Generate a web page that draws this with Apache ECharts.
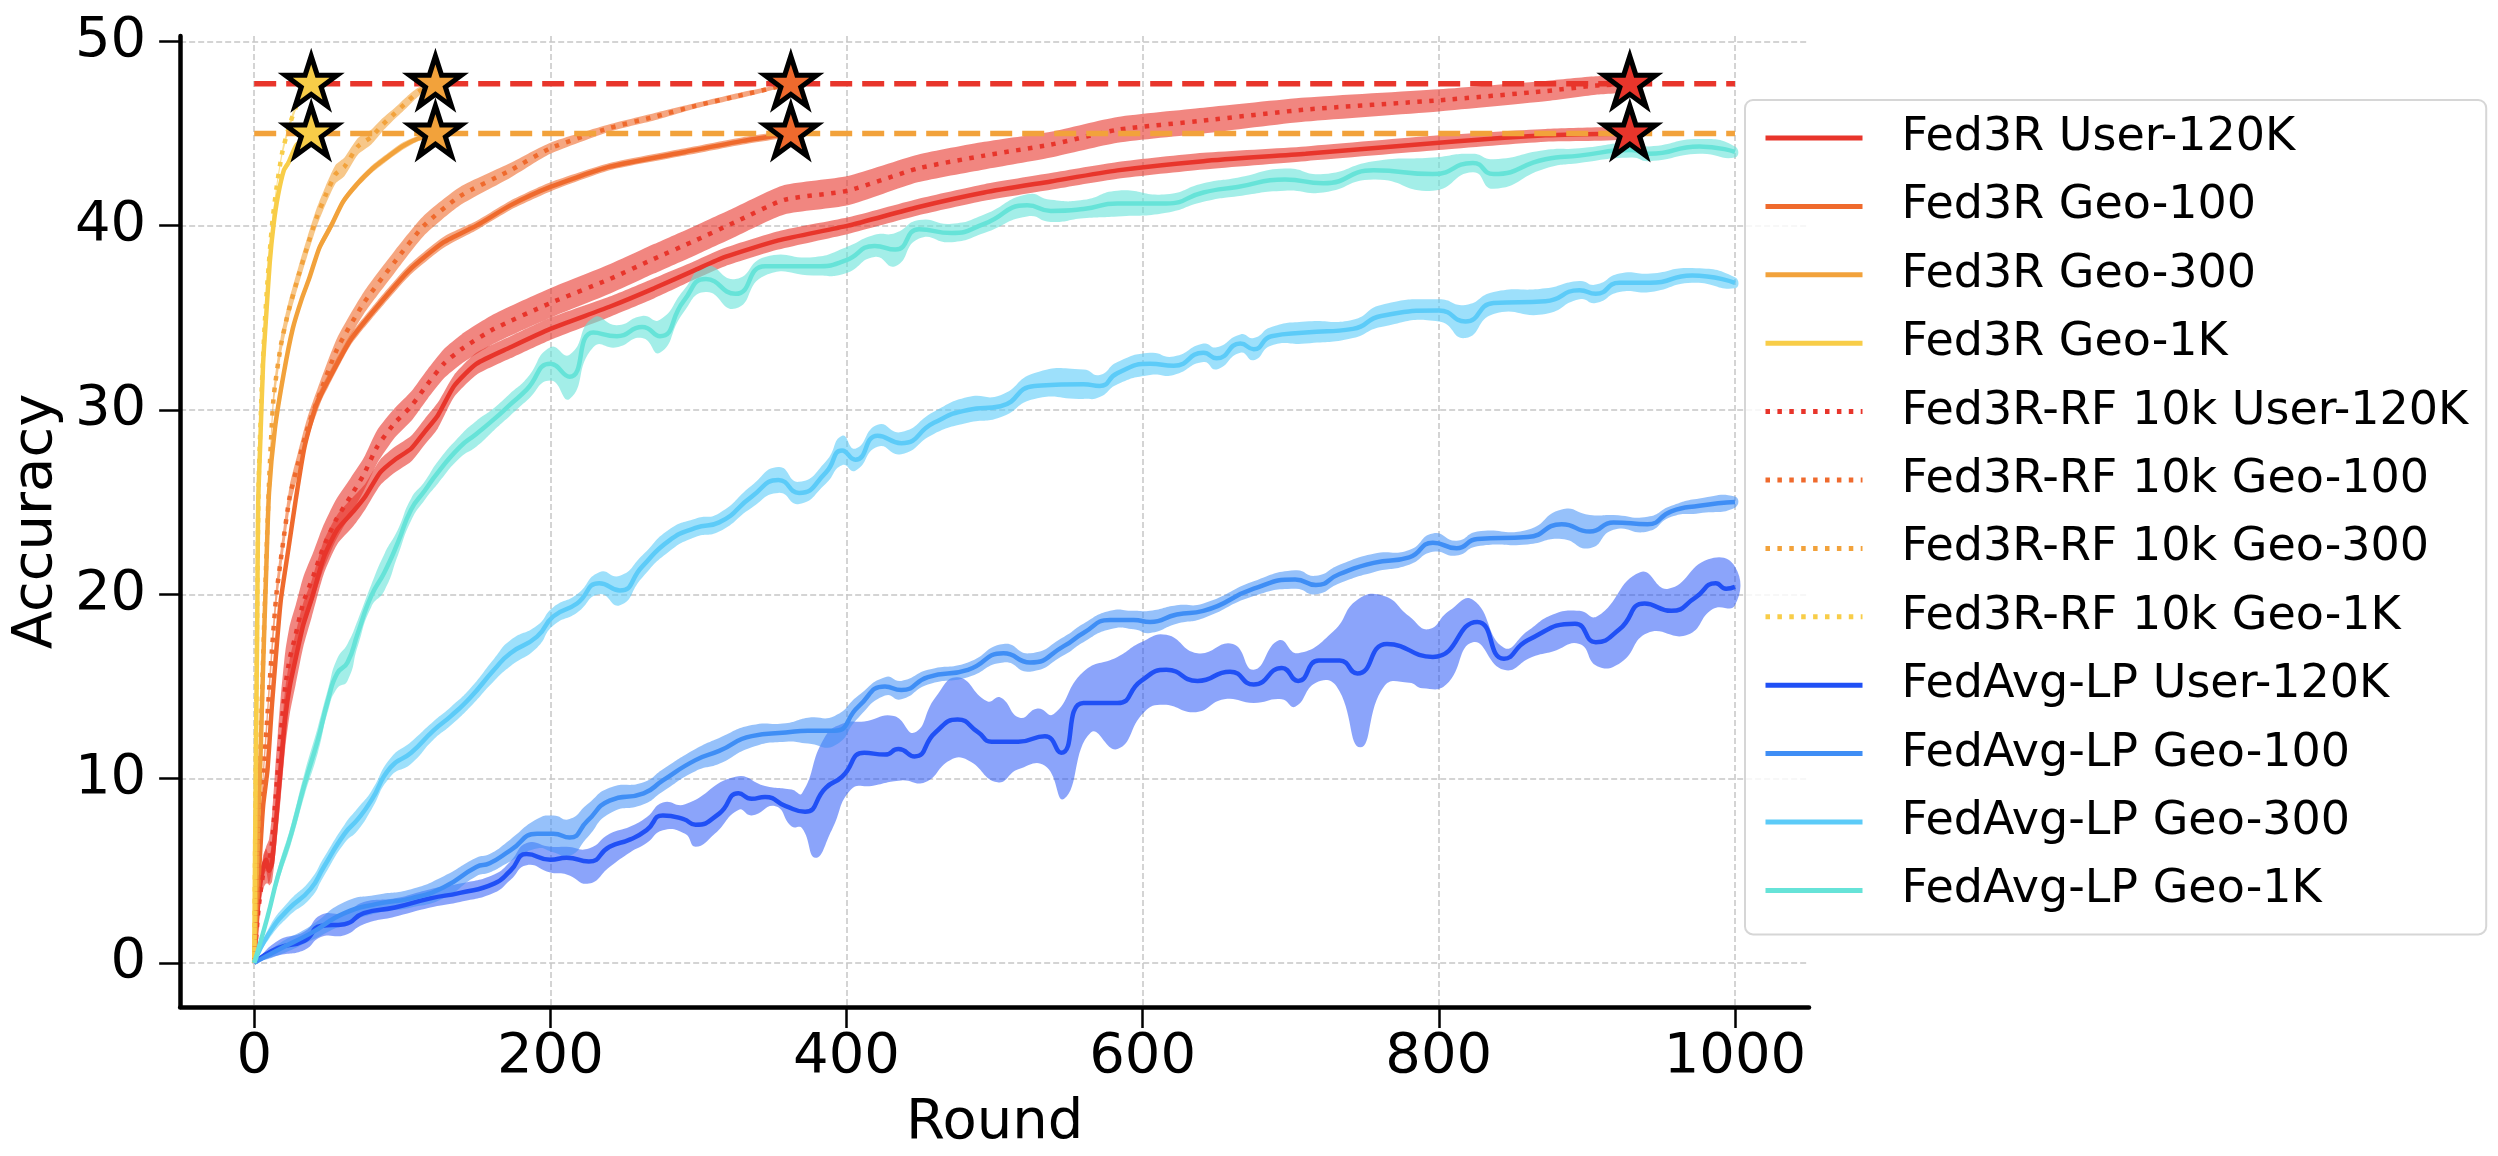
<!DOCTYPE html>
<html lang="en">
<head>
  <meta charset="UTF-8">
  <title>Accuracy vs Round</title>
  <script src="https://cdn.jsdelivr.net/npm/echarts@6/dist/echarts.min.js"></script>
  <style>
    html, body { margin: 0; padding: 0; background: #fff; }
    #main { width: 2498px; height: 1156px; }
  </style>
</head>
<body>
<div id="main"></div>
<script>
// ---- data (round, accuracy %) ----

// Fed3R User-120K
var r3User = [0,3,6,8,10,12,14,16,18,21,24,28,33,39,47,56,67,75,85,95,106,115,124,135,150,173,200,240,270,298,318,354,401,448,493,538,583,641,710,800,872,929];
var m3User = [0,3.5,5.2,5.6,5.0,5.4,7.0,8.8,10.6,13.3,15.0,16.5,18.3,19.8,22.0,23.5,24.5,25.3,26.6,27.3,27.9,28.8,29.7,31.3,32.5,33.4,34.4,35.6,36.6,37.6,38.3,39.2,40.0,41.0,41.8,42.4,43.0,43.5,43.9,44.5,44.9,45.0];
var s3User = [0,0.4,0.6,0.6,0.8,1.0,1.3,1.5,1.6,1.6,1.5,1.4,1.2,1.0,0.9,0.8,0.8,0.7,0.7,0.7,0.7,0.7,0.7,0.6,0.6,0.6,0.6,0.55,0.55,0.5,0.5,0.5,0.45,0.45,0.45,0.45,0.45,0.45,0.4,0.4,0.35,0.3];

// Fed3R Geo-100
var r3G100 = [0,2,4,6,9,12,15,18,23,28,34,42,50,65,83,105,128,150,173,200,240,291,330,362.4];
var m3G100 = [0,3,6,8.5,10.5,14,17,19.7,22.4,25.1,28,30.3,31.6,33.8,35.6,37.6,39.1,40.0,41.1,42.1,43.2,44.0,44.6,45.0];
var s3G100 = [0,0.2,0.3,0.3,0.3,0.4,0.4,0.4,0.4,0.4,0.4,0.35,0.35,0.3,0.3,0.3,0.3,0.25,0.25,0.25,0.2,0.2,0.2,0.15];

// Fed3R Geo-300
var r3G300 = [0,2,4,6,8,10,14,20,26,32,37,44,52,60,70,80,88,100,110,122.4];
var m3G300 = [0,5.5,10.5,16,21,25.5,29,32,34.4,36,37.1,38.8,40,41.3,42.3,43.1,43.6,44.3,44.7,45.0];
var s3G300 = [0,0.2,0.2,0.25,0.25,0.25,0.25,0.25,0.25,0.25,0.25,0.25,0.25,0.2,0.2,0.2,0.2,0.2,0.15,0.1];

// Fed3R Geo-1K
var r3G1K = [0,1,2,2.7,4,6,8,10.5,13,16,20,23,28,33,38.5];
var m3G1K = [0,10,18,25,28,32.5,35,38,40,41.6,43,43.4,44.3,44.7,45.0];
var s3G1K = [0,0.2,0.2,0.2,0.2,0.2,0.2,0.2,0.2,0.2,0.2,0.2,0.15,0.1,0.1];

// Fed3R-RF 10k User-120K
var rRFUser = [0,3,6,8,10,12,14,16,18,21,24,28,33,40,46,55,65,74,83,95,106,117,128,140,162,200,240,270,298,325,358,401,448,493,538,583,641,710,800,872,906,929];
var mRFUser = [0,3.0,4.8,5.3,5.5,6.5,8.5,10.5,12.5,15.0,16.5,17.8,19.5,21.0,22.4,24.0,25.3,26.5,28.0,29.3,30.2,31.4,32.5,33.3,34.4,35.8,37.1,38.2,39.2,40.2,41.4,41.9,43.1,43.8,44.4,45.2,45.7,46.3,46.8,47.3,47.6,47.7];
var sRFUser = [0,0.5,0.8,1.0,1.2,1.5,1.8,2.0,2.0,1.9,1.8,1.6,1.4,1.3,1.2,1.1,1.0,0.9,0.9,0.8,0.8,0.8,0.8,0.8,0.8,0.8,0.8,0.8,0.8,0.8,0.8,0.8,0.75,0.75,0.7,0.7,0.7,0.65,0.6,0.55,0.5,0.4];

// Fed3R-RF 10k Geo-100
var rRFG100 = [0,2,4,6,9,12,15,19,24,29.6,36,43,56,74,94.5,114.6,139,173,200,240,270,298,330,352,362.4];
var mRFG100 = [0,3.5,7,10,13.5,17,20,22.5,25.3,27.1,29,30.6,33.3,35.8,38,40,41.6,43,44.2,45.3,45.9,46.5,47.1,47.5,47.7];
var sRFG100 = [0,0.3,0.4,0.5,0.6,0.6,0.6,0.6,0.6,0.6,0.6,0.6,0.6,0.6,0.6,0.55,0.5,0.4,0.3,0.2,0.2,0.15,0.15,0.1,0.1];

// Fed3R-RF 10k Geo-300
var rRFG300 = [0,2,4,6,8,10,13,18,23,30,36,42,48,55,61,70,79,87,95,103,110,116,122.4];
var mRFG300 = [0,6,11,16.5,21.5,26,30.6,33.5,35.3,37.3,38.9,40.4,41.6,42.8,43.2,44.3,44.8,45.5,46.1,46.7,47.2,47.5,47.7];
var sRFG300 = [0,0.3,0.4,0.5,0.5,0.5,0.5,0.5,0.5,0.5,0.5,0.5,0.5,0.5,0.5,0.45,0.4,0.35,0.3,0.3,0.25,0.2,0.15];

// Fed3R-RF 10k Geo-1K
var rRFG1K = [0,1,2,3,5,7,9,12,15,19,24,29,34,38.5];
var mRFG1K = [0,10,19,26,31,34.5,37,40,42,44,45.5,46.6,47.3,47.7];
var sRFG1K = [0,0.2,0.2,0.2,0.2,0.2,0.2,0.2,0.2,0.2,0.2,0.15,0.1,0.1];

// FedAvg-LP User-120K (mean + band edges)
var rLPUser = [0,16,34,45,61,74,95,119,139,162,173,184,200,211,226,240,254,265,276,290,298,314,327,336,345,359,372,386,397,412,426,435,446,460,475,489,498,516,534,545,560,583,599,616,637,659,675,694,705,719,733,745,765,796,826,844,860,892,906,922,939,957,973,987,994,1000];
var mLPUser = [0,0.8,1.2,2.0,2.1,2.7,3.0,3.5,3.8,4.3,5.0,5.9,5.6,5.7,5.5,6.3,6.7,7.2,8.0,7.8,7.5,8.1,9.2,8.9,9.0,8.5,8.2,9.5,10.1,11.4,11.3,11.6,11.2,12.5,13.2,12.5,12.0,12.0,12.3,11.4,14.1,14.1,15.3,15.9,15.3,15.8,15.1,16.0,15.3,16.4,16.4,15.7,17.3,16.6,18.5,16.5,17.5,18.4,17.4,18.1,19.5,19.1,19.8,20.6,20.3,20.4];
var hiXLPUser = [0,16,34,45,61,74,95,119,139,162,173,184,200,211,226,240,254,265,276,291,325,345,363,370,385,398,412,432,446,460,475,495,504,517,529,540,560,583,599,616,637,661,675,692,705,729,745,763,780,793,807,823,844,860,877,895,907,936,955,982,1000];
var hiYLPUser = [0,1.2,1.7,2.6,2.7,3.3,3.5,4.0,4.3,4.8,5.5,6.5,6.3,6.3,6.2,7.0,7.4,7.9,8.7,8.6,10.1,9.6,9.4,9.2,12.2,13.0,13.1,13.4,12.5,14.4,15.5,14.2,14.4,13.3,13.8,13.5,15.8,16.6,17.4,17.8,16.8,17.3,15.9,17.5,16.8,18.0,19.7,19.9,18.8,18.1,19.1,19.7,17.1,18.0,18.9,19.1,18.8,21.2,20.3,21.9,21.5];
var loXLPUser = [0,16,34,45,61,74,95,119,139,162,173,184,200,211,226,240,254,265,276,291,298,311,327,336,352,363,370,379,390,403,417,437,453,470,482,502,516,534,547,565,583,601,614,636,655,675,694,703,717,731,747,763,780,789,805,823,844,863,877,895,907,923,941,968,985,1000];
var loYLPUser = [0,0.4,0.7,1.4,1.5,2.1,2.5,3.0,3.3,3.8,4.5,5.3,4.9,4.8,4.3,5.2,6.0,6.5,7.2,7.0,6.3,7.0,8.3,8.0,8.5,7.4,7.3,5.7,7.2,9.4,9.6,9.9,9.8,11.0,11.0,9.8,10.5,10.7,8.9,12.5,11.6,13.6,14.0,13.6,14.3,14.1,14.3,13.9,15.2,15.0,11.7,15.0,15.2,14.9,15.1,17.4,15.9,16.6,16.9,17.3,16.1,16.3,17.9,17.8,19.2,19.4];

// FedAvg-LP Geo-100
var rLP100 = [0,16,38,61,83,106,128,150,159,173,191,202,213,225,240,263,276,298,314,336,359,374,392,408,426,437,455,482,506,524,547,560,578,594,605,623,641,675,703,717,733,756,780,796,812,826,860,883,902,918,941,957,976,1000];
var mLP100 = [0,0.7,1.6,2.7,3.2,3.5,4.1,5.2,5.4,6.1,7.0,7.0,6.8,7.7,8.8,9.2,9.9,11.0,11.5,12.3,12.5,12.6,12.6,13.9,15.0,14.8,15.5,15.9,16.8,16.3,17.2,17.9,18.6,18.6,18.5,18.9,19.1,20.3,20.8,20.5,21.1,21.7,22.0,22.8,22.5,23.0,23.1,23.8,23.4,23.9,23.8,24.5,24.8,25.0];
var sLP100 = [0,0.3,0.4,0.6,0.5,0.5,0.6,0.5,0.5,0.6,0.8,1.0,1.0,0.9,0.7,0.6,0.6,0.6,0.7,0.6,0.5,0.7,0.8,0.6,0.5,0.5,0.4,0.4,0.5,0.5,0.5,0.5,0.5,0.5,0.6,0.5,0.4,0.4,0.5,0.5,0.5,0.5,0.4,0.5,0.4,0.4,0.4,0.8,0.9,0.4,0.4,0.3,0.4,0.3];

// FedAvg-LP Geo-300
var rLP300 = [0,10,23,38,47,61,70,79,92,106,121,133,146,162,173,191,202,218,233,247,262,280,298,314,336,354,368,386,397,406,421,437,459,482,504,527,560,571,583,605,621,641,650,666,675,687,710,742,761,800,818,837,872,895,906,922,943,971,1000];
var mLP300 = [0,1.6,2.9,4.0,5.2,7.0,7.8,8.8,10.6,11.4,12.6,13.4,14.4,15.9,16.8,17.7,18.8,19.5,20.6,20.2,21.5,22.9,23.6,23.9,25.3,26.2,25.5,26.6,27.8,27.3,28.6,28.2,29.3,30.0,30.2,31.3,31.4,31.3,32.0,32.5,32.4,33.1,32.8,33.6,33.3,34.0,34.2,34.4,35.1,35.4,34.8,35.8,35.9,36.5,36.3,36.9,36.9,37.3,36.9];
var sLP300 = [0,0.3,0.4,0.5,0.5,0.5,0.6,0.5,0.5,0.6,0.5,0.5,0.5,0.6,0.7,0.6,0.5,0.5,0.6,0.8,0.6,0.6,0.5,0.5,0.6,0.7,0.6,0.6,0.8,0.6,0.6,0.6,0.6,0.7,0.6,0.7,0.8,0.6,0.6,0.6,0.5,0.5,0.6,0.5,0.6,0.5,0.6,0.5,0.6,0.6,0.9,0.6,0.7,0.5,0.5,0.5,0.5,0.4,0.3];

// FedAvg-LP Geo-1K
var rLP1K = [0,9,16,25,34,43,50,56,63,70,79,88,97,106,115,124,139,150,162,173,184,200,213,229,245,262,274,290,305,325,345,379,399,419,433,449,471,493,522,538,560,583,616,641,664,696,722,756,796,823,837,872,895,930,942,976,1000];
var mLP1K = [0,2.5,4.7,7.0,9.7,12.1,14.3,15.7,16.3,17.9,19.9,21.2,22.8,24.6,25.6,26.6,28.0,28.7,29.5,30.3,31.1,32.5,31.8,34.2,34.0,34.5,34.0,35.9,37.1,36.3,37.8,37.8,38.1,38.9,38.7,39.8,39.6,40.1,41.1,40.8,40.9,41.2,41.2,41.8,42.1,42.5,42.3,43.0,42.8,43.4,42.8,43.6,43.8,44.1,43.9,44.3,44.0];
var sLP1K = [0,0.3,0.4,0.5,0.6,0.7,0.6,0.8,1.0,0.7,0.6,1.0,0.7,0.6,0.5,0.6,0.6,0.7,0.6,0.6,0.6,0.9,1.2,0.8,0.6,0.6,0.9,0.6,0.7,0.8,0.5,0.5,0.7,0.6,0.9,0.5,0.5,0.5,0.6,0.6,0.5,0.7,0.5,0.5,0.5,0.6,0.5,0.5,0.9,0.5,0.8,0.5,0.4,0.4,0.4,0.4,0.3];

// target accuracy lines and rounds at which each Fed3R run reaches them
var targetRF = 47.7;
var targetFed3R = 45.0;
var starRounds = [38.5, 122.4, 362.4, 929];

var xTicks = [0, 200, 400, 600, 800, 1000];
var yTicks = [0, 10, 20, 30, 40, 50];

// ---- chart ----
var FONT = 'DejaVu Sans';
var C_RED = '#e8352b', C_ORED = '#ef6a2d', C_ORANGE = '#f2a23b', C_YELLOW = '#f8cd48';
var C_BLUE = '#2050f5', C_MBLUE = '#3f8ef5', C_LBLUE = '#5ccbf8', C_TURQ = '#66e3d8';

var myChart = echarts.init(document.getElementById('main'));
var series = [];
var legendNames = [];

function zip(xs, ys) {
  return xs.map(function (x, i) { return [x, ys[i]]; });
}

function bandSeries(upper, lower, color, opacity, smooth) {
  return {
    type: 'custom',
    silent: true,
    data: [[0, 0]],
    z: 2,
    renderItem: function (params, api) {
      var points = upper.map(function (p) { return api.coord(p); })
        .concat(lower.slice().reverse().map(function (p) { return api.coord(p); }));
      return {
        type: 'polygon',
        shape: { points: points, smooth: smooth },
        style: { fill: color, opacity: opacity, stroke: null }
      };
    }
  };
}

function lineSeries(name, color, data, dotted, smooth) {
  return {
    name: name,
    type: 'line',
    data: data,
    symbol: 'none',
    smooth: smooth,
    z: 3,
    lineStyle: { color: color, width: 4.5, type: dotted ? [4.5, 7.4] : 'solid', cap: 'butt' },
    itemStyle: { color: color }
  };
}

function addRun(name, color, xs, mean, spread, dotted, smooth, alpha) {
  var up = xs.map(function (x, i) { return [x, mean[i] + spread[i]]; });
  var lo = xs.map(function (x, i) { return [x, mean[i] - spread[i]]; });
  series.push(bandSeries(up, lo, color, alpha, smooth));
  series.push(lineSeries(name, color, zip(xs, mean), dotted, smooth));
  legendNames.push(name);
}

addRun('Fed3R User-120K', C_RED, r3User, m3User, s3User, false, 0.2, 0.6);
addRun('Fed3R Geo-100', C_ORED, r3G100, m3G100, s3G100, false, 0.2, 0.6);
addRun('Fed3R Geo-300', C_ORANGE, r3G300, m3G300, s3G300, false, 0.2, 0.6);
addRun('Fed3R Geo-1K', C_YELLOW, r3G1K, m3G1K, s3G1K, false, 0.2, 0.6);
addRun('Fed3R-RF 10k User-120K', C_RED, rRFUser, mRFUser, sRFUser, true, 0.2, 0.6);
addRun('Fed3R-RF 10k Geo-100', C_ORED, rRFG100, mRFG100, sRFG100, true, 0.2, 0.6);
addRun('Fed3R-RF 10k Geo-300', C_ORANGE, rRFG300, mRFG300, sRFG300, true, 0.2, 0.6);
addRun('Fed3R-RF 10k Geo-1K', C_YELLOW, rRFG1K, mRFG1K, sRFG1K, true, 0.2, 0.6);

// FedAvg-LP User-120K has an asymmetric band
series.push(bandSeries(zip(hiXLPUser, hiYLPUser), zip(loXLPUser, loYLPUser), C_BLUE, 0.52, 0.5));
series.push(lineSeries('FedAvg-LP User-120K', C_BLUE, zip(rLPUser, mLPUser), false, 0.55));
legendNames.push('FedAvg-LP User-120K');

addRun('FedAvg-LP Geo-100', C_MBLUE, rLP100, mLP100, sLP100, false, 0.55, 0.55);
addRun('FedAvg-LP Geo-300', C_LBLUE, rLP300, mLP300, sLP300, false, 0.55, 0.6);
addRun('FedAvg-LP Geo-1K', C_TURQ, rLP1K, mLP1K, sLP1K, false, 0.55, 0.6);

// dashed target lines
[[targetRF, C_RED], [targetFed3R, C_ORANGE]].forEach(function (t) {
  series.push({
    type: 'line', silent: true, symbol: 'none', z: 5,
    data: [[0, t[0]], [1000, t[0]]],
    lineStyle: { color: t[1], width: 5.5, type: [22, 10] }
  });
});

// stars
var STAR = 'path://M0,-1L0.2245,-0.309L0.9511,-0.309L0.3633,0.118L0.5878,0.809L0,0.382L-0.5878,0.809L-0.3633,0.118L-0.9511,-0.309L-0.2245,-0.309Z';
var starColors = [C_YELLOW, C_ORANGE, C_ORED, C_RED];
var starData = [];
starRounds.forEach(function (r, i) {
  starData.push({ value: [r, targetRF], itemStyle: { color: starColors[i] } });
  starData.push({ value: [r, targetFed3R], itemStyle: { color: starColors[i] } });
});
series.push({
  type: 'scatter', silent: true, z: 6,
  symbol: STAR, symbolSize: [52, 50], symbolOffset: [0, -2.6],
  data: starData,
  itemStyle: { borderColor: '#000', borderWidth: 5, borderJoin: 'miter', borderMiterLimit: 10, opacity: 1 }
});

var axisText = { fontFamily: FONT, fontSize: 56, color: '#000' };
var gridLine = { show: true, lineStyle: { color: '#c6c6c6', width: 1.5, type: [6, 3] } };
function plain(v) { return String(v); }

var option = {
  animation: false,
  backgroundColor: '#fff',
  grid: { left: 173, right: 689, top: 36, bottom: 149, containLabel: false },
  legend: {
    orient: 'vertical',
    left: 1745,
    top: 100,
    data: legendNames,
    selectedMode: false,
    itemWidth: 97,
    itemHeight: 1,
    itemGap: 18.4,
    padding: [13, 18, 19, 18],
    backgroundColor: 'rgba(255,255,255,0.8)',
    borderColor: '#d6d6d6',
    borderWidth: 2,
    borderRadius: 8,
    itemStyle: { opacity: 0 },
    lineStyle: { width: 5 },
    textStyle: { fontFamily: FONT, fontSize: 46, color: '#000', lineHeight: 50, padding: [0, 0, 0, 34] }
  },
  xAxis: {
    type: 'value',
    min: -50,
    max: 1050,
    name: 'Round',
    nameLocation: 'middle',
    nameGap: 88,
    nameTextStyle: axisText,
    axisLine: { show: true, onZero: false, lineStyle: { color: '#000', width: 4.5 } },
    axisTick: { show: true, customValues: xTicks, length: 21, lineStyle: { color: '#000', width: 2.5 } },
    axisLabel: { customValues: xTicks, formatter: plain, margin: 22, fontFamily: FONT, fontSize: 56, color: '#000' },
    splitLine: gridLine
  },
  yAxis: {
    type: 'value',
    min: -2.395,
    max: 50.29,
    name: 'Accuracy',
    nameLocation: 'middle',
    nameGap: 95,
    nameTextStyle: axisText,
    axisLine: { show: true, onZero: false, lineStyle: { color: '#000', width: 4.5 } },
    axisTick: { show: true, customValues: yTicks, length: 21, lineStyle: { color: '#000', width: 2.5 } },
    axisLabel: { customValues: yTicks, formatter: plain, margin: 34, fontFamily: FONT, fontSize: 56, color: '#000' },
    splitLine: gridLine
  },
  series: series
};

myChart.setOption(option);
</script>
</body>
</html>
